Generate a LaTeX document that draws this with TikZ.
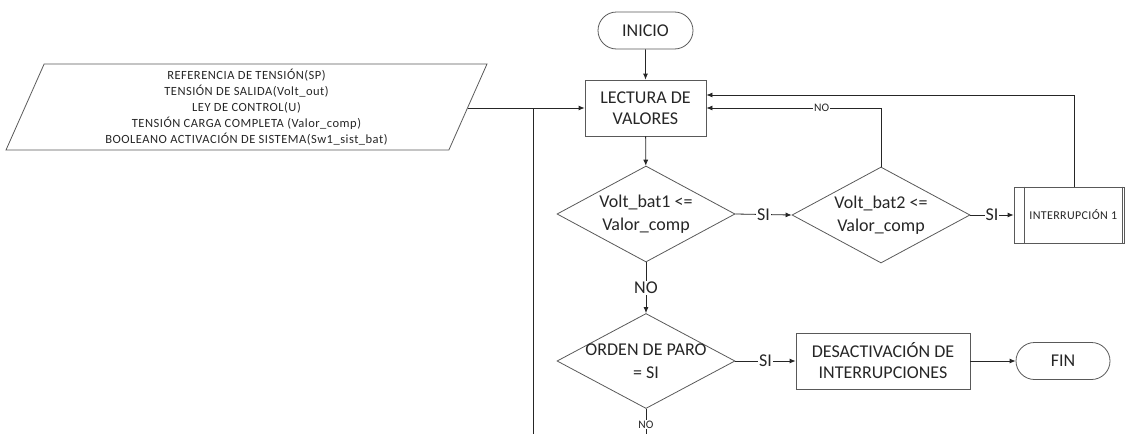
\documentclass[tikz,border=0pt]{standalone}
\usepackage{fontspec}
\setmainfont{Carlito}
\usetikzlibrary{shapes.geometric,shapes.misc,arrows.meta,calc}
% zero-width line so long text may overflow a diamond without enlarging it
\newcommand{\zw}[1]{\makebox[0pt]{#1}}
\begin{document}
\begin{tikzpicture}[x=1pt,y=-1pt,
  base/.style={draw=black!65, line width=0.8pt, text=black!85,
    font=\fontsize{18}{21}\selectfont, align=center, inner sep=0pt},
  terminal/.style={base, rounded rectangle, minimum width=95pt, minimum height=37pt},
  proceso/.style={base, rectangle, minimum height=56pt},
  decision/.style={base, diamond, aspect=2, minimum width=178pt, minimum height=96pt,
    font=\fontsize{18}{23}\selectfont},
  datosio/.style={base, trapezium, trapezium left angle=63.4, trapezium right angle=116.6,
    trapezium stretches body, minimum width=481pt, minimum height=86pt,
    font=\fontsize{12.5}{16}\selectfont\addfontfeatures{LetterSpace=4}},
  predef/.style={base, rectangle, minimum width=110.5pt, minimum height=56pt,
    font=\fontsize{12}{12}\selectfont\addfontfeatures{LetterSpace=3}},
  linea/.style={draw=black!85, line width=0.8pt},
  flecha/.style={linea, -{Latex[length=6pt,width=5pt]}},
  etiq/.style={fill=white, inner sep=1pt, text=black!85, font=\fontsize{18}{18}\selectfont},
  etiqp/.style={etiq, font=\fontsize{11.5}{11.5}\selectfont}
]
\useasboundingbox (0,0) rectangle (1125,434);

% shapes
\node[datosio] (datos) at (246.5,107) {REFERENCIA DE TENSIÓN(SP)\\TENSIÓN DE SALIDA(Volt\_out)\\LEY DE CONTROL(U)\\TENSIÓN CARGA COMPLETA (Valor\_comp)\\BOOLEANO ACTIVACIÓN DE SISTEMA(Sw1\_sist\_bat)};
\node[terminal] (inicio) at (645.5,30.5) {INICIO};
\node[proceso, minimum width=121pt] (lect) at (645.5,108) {LECTURA DE\\VALORES};
\node[decision] (d1) at (646,214) {\zw{Volt\_bat1 <=}\\\zw{Valor\_comp}};
\node[decision] (d2) at (881,215) {\zw{Volt\_bat2 <=}\\\zw{Valor\_comp}};
\node[predef] (interr) at (1069.25,215) {\hspace*{8pt}INTERRUPCIÓN 1};
\draw[draw=black!65, line width=0.8pt]
  ([xshift=11pt]interr.north west) -- ([xshift=11pt]interr.south west)
  ([xshift=-3pt]interr.north east) -- ([xshift=-3pt]interr.south east);
\node[decision, minimum height=95pt] (d3) at (646,361) {\zw{ORDEN DE PARO}\\\zw{= SI}};
\node[proceso, minimum width=174pt] (desact) at (883,361) {DESACTIVACIÓN DE\\INTERRUPCIONES};
\node[terminal, minimum width=94pt, minimum height=37pt] (fin) at (1063,361) {FIN};

\coordinate (union) at (533,108);
\coordinate (abajo) at (533,434);
\coordinate (salida) at (646,434);

% connectors
\draw[flecha] (inicio) -- (lect);
\draw[flecha] (datos.east |- lect.west) -- (lect.west);
\draw[linea] (union) -- (abajo);
\draw[flecha] (lect) -- (d1);
\draw[flecha] (d1.east) -- node[etiq]{SI} (d2.west);
\draw[flecha] (d2.east) -- node[etiq]{SI} (interr.west);
\draw[flecha] (d2.north) |- node[etiqp, pos=0.67]{NO} (lect.east);
\draw[flecha] ([xshift=5pt]interr.north) |- ([yshift=13pt]lect.east);
\draw[flecha] (d1.south) -- node[etiq]{NO} (d3.north);
\draw[flecha] (d3.east) -- node[etiq]{SI} (desact.west);
\draw[flecha] (desact) -- (fin);
\draw[linea] (d3.south) -- node[etiqp, pos=0.62]{NO} (salida);
\end{tikzpicture}
\end{document}
